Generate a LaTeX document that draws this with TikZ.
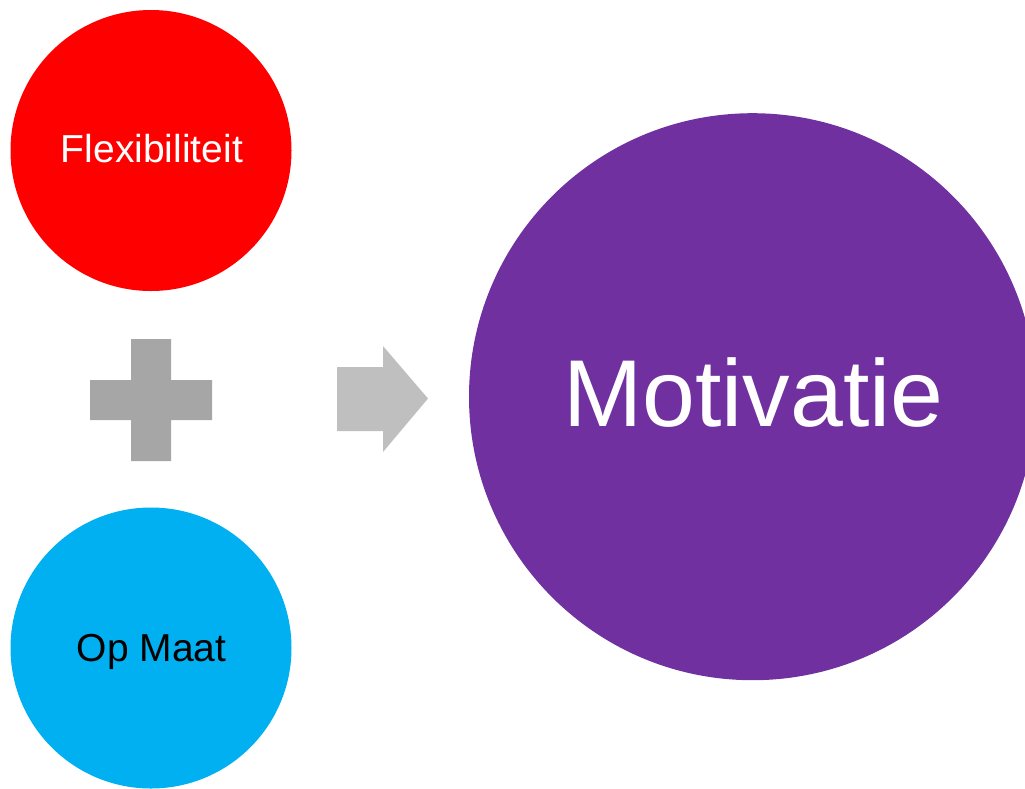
\documentclass[tikz,border=0pt]{standalone}
\usepackage{fontspec}
\setmainfont{Liberation Sans}
\definecolor{cred}{HTML}{FF0000}
\definecolor{cblue}{HTML}{00B0F0}
\definecolor{cpurple}{HTML}{7030A0}
\definecolor{cplus}{HTML}{A6A6A6}
\definecolor{carrow}{HTML}{BFBFBF}
\begin{document}
\begin{tikzpicture}[x=1pt,y=-1pt,
  disc/.style={circle,inner sep=0pt,draw=none},
  lbl/.style={anchor=base,inner sep=0pt},
  shapefill/.style={draw=none}]
\useasboundingbox (0,0) rectangle (1025,788);
\begin{scope}
\clip (0,0) rectangle (1025,788);
\node[disc,fill=cred,minimum size=281pt] (red) at (151,150.5) {};
\node[disc,fill=cblue,minimum size=281pt] (blue) at (151,648) {};
\node[disc,fill=cpurple,minimum size=567pt] (purple) at (752.5,396.7) {};
\end{scope}
\node[lbl,text=white,font=\fontsize{39}{39}\selectfont] (tflex) at (152,162) {Flexibiliteit};
\node[lbl,text=black,font=\fontsize{39}{39}\selectfont] (top) at (151.5,661) {Op Maat};
\node[lbl,text=white,font=\fontsize{95}{95}\selectfont] (tmot) at (753.5,426) {Motivatie};
% plus sign
\fill[cplus] (131,339) -- (171,339) -- (171,380) -- (212,380) -- (212,420) -- (171,420)
  -- (171,461) -- (131,461) -- (131,420) -- (90,420) -- (90,380) -- (131,380) -- cycle;
\coordinate (plus) at (151,400);
% arrow
\fill[carrow] (337,367) -- (383,367) -- (383,346) -- (428,398.5) -- (383,452) -- (383,431) -- (337,431) -- cycle;
\coordinate (arrow) at (383,398.5);
\end{tikzpicture}
\end{document}
